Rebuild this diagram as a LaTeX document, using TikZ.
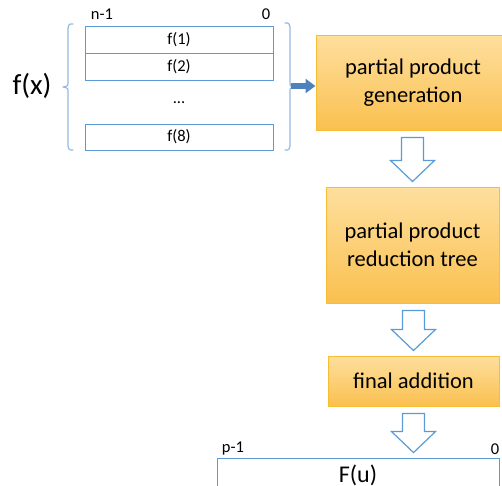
\documentclass[tikz,border=0pt]{standalone}
\usepackage{fontspec}
\setmainfont{Carlito}
\usetikzlibrary{arrows.meta,calc}

\definecolor{regblue}{HTML}{5B9BD5}
\definecolor{bracecol}{HTML}{95B8E3}
\definecolor{arrowfill}{HTML}{4F81BD}
\definecolor{procedge}{HTML}{F7BD35}
\definecolor{proctop}{HTML}{FEDF9E}
\definecolor{procbot}{HTML}{FAC04F}

\tikzset{
  proc/.style={rectangle, draw=procedge, line width=1pt, top color=proctop,
    bottom color=procbot, inner sep=0pt, align=center,
    font=\fontsize{22.5}{28}\selectfont},
  reg/.style={rectangle, draw=regblue, line width=0.9pt, inner sep=0pt,
    font=\fontsize{16.5}{18}\selectfont},
  idx/.style={inner sep=0pt, font=\fontsize{16.5}{18}\selectfont},
  bracepath/.style={draw=bracecol, line width=1.2pt, line cap=round, line join=round},
  hollow/.style={draw=regblue, fill=white, line width=1.2pt, line join=miter},
  feed/.style={draw=arrowfill, line width=6pt, -{Triangle[length=10pt,width=14pt]}}
}

% down-pointing outline arrow between two nodes
\newcommand\hollowarrow[2]{%
  \draw[hollow] let \p1=(#1), \p2=(#2) in
    (\x2-11pt,\y1-7pt) -- (\x2+11pt,\y1-7pt) -- (\x2+11pt,\y2+26pt)
    -- (\x2+22pt,\y2+26pt) -- (\x2,\y2+5pt) -- (\x2-22pt,\y2+26pt)
    -- (\x2-11pt,\y2+26pt) -- cycle;}

\begin{document}
\begin{tikzpicture}[x=1pt,y=-1pt]
\useasboundingbox (0,0) rectangle (502,485);

% input word list
\node (fx) at (32,86) {\fontsize{29}{31}\selectfont f(x)};
\node[reg, minimum width=188, minimum height=27] (f1) at (179,39.5) {f(1)};
\node[reg, minimum width=188, minimum height=27] (f2) at (179,66.5) {f(2)};
\node[idx] (dots) at (179,103) {...};
\node[reg, minimum width=188, minimum height=26] (f8) at (179,137) {f(8)};
\node[idx] (nhi) at (102,14) {n-1};
\node[idx] (nlo) at (266,14) {0};

% braces around the list
\draw[bracepath] (73,24) .. controls (69,24) .. (68,28) -- (68,82)
  .. controls (68,86) .. (63,87) .. controls (68,88) .. (68,92) -- (68,146)
  .. controls (69,150) .. (73,150);
\draw[bracepath] (285,23) .. controls (289,23) .. (290,27) -- (290,82)
  .. controls (290,86) .. (293,87) .. controls (290,88) .. (290,92) -- (290,146)
  .. controls (289,150) .. (285,150);
\coordinate (rb) at (291,86);

% processing stages
\node[proc, minimum width=194, minimum height=95] (b1) at (413,82.5)
  {partial product\\generation};
\node[proc, minimum width=173, minimum height=116] (b2) at (412.5,245)
  {partial product\\reduction tree};
\node[proc, minimum width=171, minimum height=50] (b3) at (413.5,381)
  {final addition};

% result word
\node[reg, minimum width=282, minimum height=34,
  font=\fontsize{24}{26}\selectfont] (fu) at (358,475) {F(u)};
\node[idx] (phi) at (233,449) {p-1};
\node[idx] (plo) at (495,449) {0};

% connectors
\draw[feed] (rb) -- (b1.west |- rb);
\hollowarrow{b1.south}{b2.north}
\hollowarrow{b2.south}{b3.north}
\hollowarrow{b3.south}{b3.south |- fu.north}
\end{tikzpicture}
\end{document}
